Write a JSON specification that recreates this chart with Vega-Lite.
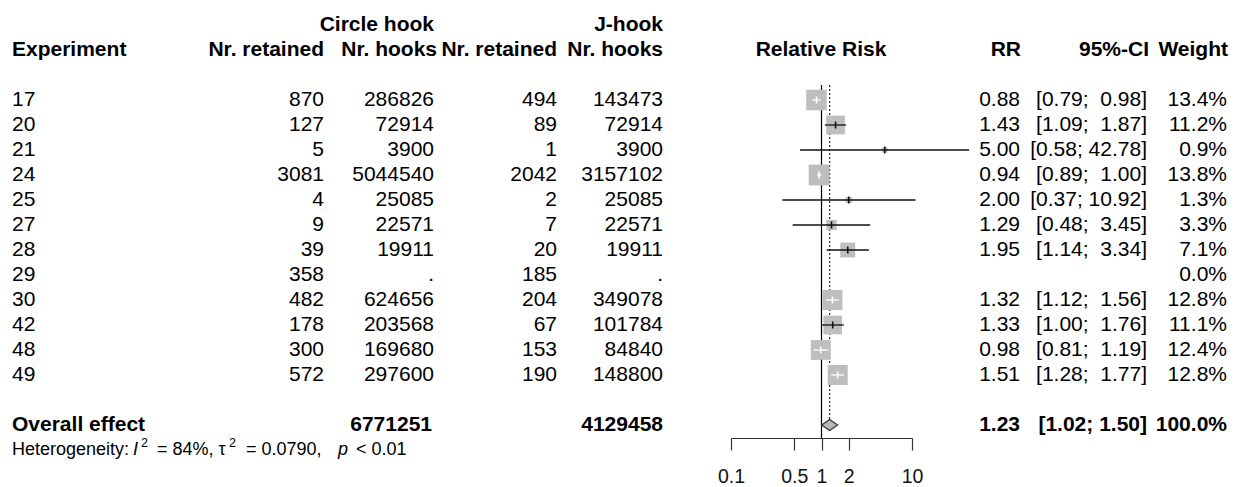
{
  "$schema": "https://vega.github.io/schema/vega-lite/v6.json",
  "width": 1238,
  "height": 487,
  "autosize": "none",
  "padding": 0,
  "background": "white",
  "config": {
    "view": {"stroke": null},
    "font": "Liberation Sans",
    "text": {"font": "Liberation Sans", "fontSize": 21, "color": "#000000", "baseline": "middle"}
  },
  "datasets": {
    "studies": [
      {"key": "17", "cr": 870, "ch": 286826, "jr": 494, "jh": 143473, "rr": 0.88, "lo": 0.79, "hi": 0.98, "ci": "[0.79;\u00a0 0.98]", "w": 0.134},
      {"key": "20", "cr": 127, "ch": 72914, "jr": 89, "jh": 72914, "rr": 1.43, "lo": 1.09, "hi": 1.87, "ci": "[1.09;\u00a0 1.87]", "w": 0.112},
      {"key": "21", "cr": 5, "ch": 3900, "jr": 1, "jh": 3900, "rr": 5.00, "lo": 0.58, "hi": 42.78, "ci": "[0.58; 42.78]", "w": 0.009},
      {"key": "24", "cr": 3081, "ch": 5044540, "jr": 2042, "jh": 3157102, "rr": 0.94, "lo": 0.89, "hi": 1.00, "ci": "[0.89;\u00a0 1.00]", "w": 0.138},
      {"key": "25", "cr": 4, "ch": 25085, "jr": 2, "jh": 25085, "rr": 2.00, "lo": 0.37, "hi": 10.92, "ci": "[0.37; 10.92]", "w": 0.013},
      {"key": "27", "cr": 9, "ch": 22571, "jr": 7, "jh": 22571, "rr": 1.29, "lo": 0.48, "hi": 3.45, "ci": "[0.48;\u00a0 3.45]", "w": 0.033},
      {"key": "28", "cr": 39, "ch": 19911, "jr": 20, "jh": 19911, "rr": 1.95, "lo": 1.14, "hi": 3.34, "ci": "[1.14;\u00a0 3.34]", "w": 0.071},
      {"key": "29", "cr": 358, "ch": ".", "jr": 185, "jh": ".", "rr": null, "lo": null, "hi": null, "ci": "", "w": 0.0},
      {"key": "30", "cr": 482, "ch": 624656, "jr": 204, "jh": 349078, "rr": 1.32, "lo": 1.12, "hi": 1.56, "ci": "[1.12;\u00a0 1.56]", "w": 0.128},
      {"key": "42", "cr": 178, "ch": 203568, "jr": 67, "jh": 101784, "rr": 1.33, "lo": 1.00, "hi": 1.76, "ci": "[1.00;\u00a0 1.76]", "w": 0.111},
      {"key": "48", "cr": 300, "ch": 169680, "jr": 153, "jh": 84840, "rr": 0.98, "lo": 0.81, "hi": 1.19, "ci": "[0.81;\u00a0 1.19]", "w": 0.124},
      {"key": "49", "cr": 572, "ch": 297600, "jr": 190, "jh": 148800, "rr": 1.51, "lo": 1.28, "hi": 1.77, "ci": "[1.28;\u00a0 1.77]", "w": 0.128}
    ],
    "overall": [
      {"key": "Overall effect", "label": "Overall effect", "ch": 6771251, "jh": 4129458, "rr": 1.23, "lo": 1.02, "hi": 1.50, "ci": "[1.02; 1.50]", "w": 1.0}
    ],
    "labels": [
      {"circle": "Circle hook", "jhook": "J-hook", "exp": "Experiment", "ret": "Nr. retained", "hooks": "Nr. hooks", "rel": "Relative Risk", "rrh": "RR", "cih": "95%-CI", "wh": "Weight", "het": "Heterogeneity:", "i": "I", "sup": "2", "i2": "= 84%, τ", "t2": "= 0.0790,", "p": "p", "pv": "< 0.01"}
    ]
  },
  "layer": [
    {
      "layer": [
        {
          "data": {"name": "overall"},
          "mark": {"type": "rule", "color": "#000000", "strokeWidth": 1.2, "yOffset": -15, "y2Offset": -12},
          "encoding": {
            "x": {"datum": 1, "type": "quantitative", "scale": {"type": "log", "domain": [0.1, 10], "range": [731, 912], "nice": false},
              "axis": {"orient": "bottom", "offset": -49, "values": [0.1, 0.5, 1, 2, 10], "format": "~g", "title": null, "grid": false, "domainColor": "#333333", "domainWidth": 1.2, "tickColor": "#333333", "tickWidth": 1.2, "tickSize": 12, "labelFontSize": 19.5, "labelFont": "Liberation Sans", "labelColor": "#111111", "labelPadding": 17.5, "labelFlush": false, "labelOverlap": false}},
            "y": {"datum": "17", "type": "nominal", "scale": {"type": "point", "domain": ["h1","h2","g1","17","20","21","24","25","27","28","29","30","42","48","49","g2","Overall effect","het"], "range": [25, 450], "padding": 0}, "axis": null},
            "y2": {"datum": "het"}
          }
        },
        {
          "data": {"name": "overall"},
          "mark": {"type": "rule", "color": "#333333", "strokeWidth": 1.3, "strokeDash": [2, 2], "yOffset": -15, "y2Offset": -6},
          "encoding": {
            "x": {"field": "rr", "type": "quantitative", "scale": {"type": "log", "domain": [0.1, 10], "range": [731, 912], "nice": false},
              "axis": {"orient": "bottom", "offset": -49, "values": [0.1, 0.5, 1, 2, 10], "format": "~g", "title": null, "grid": false, "domainColor": "#333333", "domainWidth": 1.2, "tickColor": "#333333", "tickWidth": 1.2, "tickSize": 12, "labelFontSize": 19.5, "labelFont": "Liberation Sans", "labelColor": "#111111", "labelPadding": 17.5, "labelFlush": false, "labelOverlap": false}},
            "y": {"datum": "17", "type": "nominal", "axis": null},
            "y2": {"datum": "Overall effect"}
          }
        },
        {
          "data": {"name": "studies"},
          "mark": {"type": "square", "filled": true, "color": "#BEBEBE", "opacity": 1},
          "encoding": {
            "x": {"field": "rr", "type": "quantitative", "scale": {"type": "log", "domain": [0.1, 10], "range": [731, 912], "nice": false},
              "axis": {"orient": "bottom", "offset": -49, "values": [0.1, 0.5, 1, 2, 10], "format": "~g", "title": null, "grid": false, "domainColor": "#333333", "domainWidth": 1.2, "tickColor": "#333333", "tickWidth": 1.2, "tickSize": 12, "labelFontSize": 19.5, "labelFont": "Liberation Sans", "labelColor": "#111111", "labelPadding": 17.5, "labelFlush": false, "labelOverlap": false}},
            "y": {"field": "key", "type": "nominal", "axis": null},
            "size": {"field": "w", "type": "quantitative", "scale": {"type": "linear", "domain": [0, 0.14], "range": [0, 440]}, "legend": null}
          }
        },
        {
          "data": {"name": "studies"},
          "mark": {"type": "rule", "strokeWidth": 1.3},
          "encoding": {
            "x": {"field": "lo", "type": "quantitative", "scale": {"type": "log", "domain": [0.1, 10], "range": [731, 912], "nice": false},
              "axis": {"orient": "bottom", "offset": -49, "values": [0.1, 0.5, 1, 2, 10], "format": "~g", "title": null, "grid": false, "domainColor": "#333333", "domainWidth": 1.2, "tickColor": "#333333", "tickWidth": 1.2, "tickSize": 12, "labelFontSize": 19.5, "labelFont": "Liberation Sans", "labelColor": "#111111", "labelPadding": 17.5, "labelFlush": false, "labelOverlap": false}},
            "x2": {"field": "hi"},
            "y": {"field": "key", "type": "nominal", "axis": null},
            "color": {"condition": {"test": "datum.lo / datum.rr > 0.8 && datum.hi / datum.rr < 1.25", "value": "#FFFFFF"}, "value": "#111111"}
          }
        },
        {
          "data": {"name": "studies"},
          "mark": {"type": "tick", "orient": "vertical", "size": 7, "thickness": 1.6, "opacity": 1},
          "encoding": {
            "x": {"field": "rr", "type": "quantitative", "scale": {"type": "log", "domain": [0.1, 10], "range": [731, 912], "nice": false},
              "axis": {"orient": "bottom", "offset": -49, "values": [0.1, 0.5, 1, 2, 10], "format": "~g", "title": null, "grid": false, "domainColor": "#333333", "domainWidth": 1.2, "tickColor": "#333333", "tickWidth": 1.2, "tickSize": 12, "labelFontSize": 19.5, "labelFont": "Liberation Sans", "labelColor": "#111111", "labelPadding": 17.5, "labelFlush": false, "labelOverlap": false}},
            "y": {"field": "key", "type": "nominal", "axis": null},
            "color": {"condition": {"test": "datum.lo / datum.rr > 0.8 && datum.hi / datum.rr < 1.25", "value": "#FFFFFF"}, "value": "#111111"}
          }
        },
        {
          "data": {"name": "overall"},
          "mark": {"type": "point", "shape": "M-1,0L0,-0.7L1,0L0,0.7Z", "size": 256, "filled": true, "fill": "#B8B8B8", "stroke": "#333333", "strokeWidth": 1.2, "opacity": 1, "fillOpacity": 1},
          "encoding": {
            "x": {"field": "rr", "type": "quantitative", "scale": {"type": "log", "domain": [0.1, 10], "range": [731, 912], "nice": false},
              "axis": {"orient": "bottom", "offset": -49, "values": [0.1, 0.5, 1, 2, 10], "format": "~g", "title": null, "grid": false, "domainColor": "#333333", "domainWidth": 1.2, "tickColor": "#333333", "tickWidth": 1.2, "tickSize": 12, "labelFontSize": 19.5, "labelFont": "Liberation Sans", "labelColor": "#111111", "labelPadding": 17.5, "labelFlush": false, "labelOverlap": false}},
            "y": {"field": "key", "type": "nominal", "axis": null}
          }
        }
      ]
    },
    {
      "layer": [
        {"data": {"name": "labels"}, "mark": {"type": "text", "align": "right", "fontWeight": "bold"},
          "encoding": {"x": {"datum": 434, "type": "quantitative", "scale": {"domain": [0, 1238], "nice": false}, "axis": null}, "y": {"datum": "h1", "type": "nominal", "axis": null}, "text": {"field": "circle", "type": "nominal"}}},
        {"data": {"name": "labels"}, "mark": {"type": "text", "align": "right", "fontWeight": "bold"},
          "encoding": {"x": {"datum": 663, "type": "quantitative", "scale": {"domain": [0, 1238], "nice": false}, "axis": null}, "y": {"datum": "h1", "type": "nominal", "axis": null}, "text": {"field": "jhook", "type": "nominal"}}},
        {"data": {"name": "labels"}, "mark": {"type": "text", "align": "left", "fontWeight": "bold"},
          "encoding": {"x": {"datum": 12, "type": "quantitative", "scale": {"domain": [0, 1238], "nice": false}, "axis": null}, "y": {"datum": "h2", "type": "nominal", "axis": null}, "text": {"field": "exp", "type": "nominal"}}},
        {"data": {"name": "labels"}, "mark": {"type": "text", "align": "right", "fontWeight": "bold"},
          "encoding": {"x": {"datum": 324, "type": "quantitative", "scale": {"domain": [0, 1238], "nice": false}, "axis": null}, "y": {"datum": "h2", "type": "nominal", "axis": null}, "text": {"field": "ret", "type": "nominal"}}},
        {"data": {"name": "labels"}, "mark": {"type": "text", "align": "right", "fontWeight": "bold"},
          "encoding": {"x": {"datum": 437, "type": "quantitative", "scale": {"domain": [0, 1238], "nice": false}, "axis": null}, "y": {"datum": "h2", "type": "nominal", "axis": null}, "text": {"field": "hooks", "type": "nominal"}}},
        {"data": {"name": "labels"}, "mark": {"type": "text", "align": "right", "fontWeight": "bold"},
          "encoding": {"x": {"datum": 557, "type": "quantitative", "scale": {"domain": [0, 1238], "nice": false}, "axis": null}, "y": {"datum": "h2", "type": "nominal", "axis": null}, "text": {"field": "ret", "type": "nominal"}}},
        {"data": {"name": "labels"}, "mark": {"type": "text", "align": "right", "fontWeight": "bold"},
          "encoding": {"x": {"datum": 663, "type": "quantitative", "scale": {"domain": [0, 1238], "nice": false}, "axis": null}, "y": {"datum": "h2", "type": "nominal", "axis": null}, "text": {"field": "hooks", "type": "nominal"}}},
        {"data": {"name": "labels"}, "mark": {"type": "text", "align": "center", "fontWeight": "bold"},
          "encoding": {"x": {"datum": 821, "type": "quantitative", "scale": {"domain": [0, 1238], "nice": false}, "axis": null}, "y": {"datum": "h2", "type": "nominal", "axis": null}, "text": {"field": "rel", "type": "nominal"}}},
        {"data": {"name": "labels"}, "mark": {"type": "text", "align": "right", "fontWeight": "bold"},
          "encoding": {"x": {"datum": 1021, "type": "quantitative", "scale": {"domain": [0, 1238], "nice": false}, "axis": null}, "y": {"datum": "h2", "type": "nominal", "axis": null}, "text": {"field": "rrh", "type": "nominal"}}},
        {"data": {"name": "labels"}, "mark": {"type": "text", "align": "right", "fontWeight": "bold"},
          "encoding": {"x": {"datum": 1149, "type": "quantitative", "scale": {"domain": [0, 1238], "nice": false}, "axis": null}, "y": {"datum": "h2", "type": "nominal", "axis": null}, "text": {"field": "cih", "type": "nominal"}}},
        {"data": {"name": "labels"}, "mark": {"type": "text", "align": "right", "fontWeight": "bold"},
          "encoding": {"x": {"datum": 1228, "type": "quantitative", "scale": {"domain": [0, 1238], "nice": false}, "axis": null}, "y": {"datum": "h2", "type": "nominal", "axis": null}, "text": {"field": "wh", "type": "nominal"}}},

        {"data": {"name": "studies"}, "mark": {"type": "text", "align": "left"},
          "encoding": {"x": {"datum": 12, "type": "quantitative", "scale": {"domain": [0, 1238], "nice": false}, "axis": null}, "y": {"field": "key", "type": "nominal", "axis": null}, "text": {"field": "key", "type": "nominal"}}},
        {"data": {"name": "studies"}, "mark": {"type": "text", "align": "right"},
          "encoding": {"x": {"datum": 324, "type": "quantitative", "scale": {"domain": [0, 1238], "nice": false}, "axis": null}, "y": {"field": "key", "type": "nominal", "axis": null}, "text": {"field": "cr", "type": "nominal"}}},
        {"data": {"name": "studies"}, "mark": {"type": "text", "align": "right"},
          "encoding": {"x": {"datum": 434, "type": "quantitative", "scale": {"domain": [0, 1238], "nice": false}, "axis": null}, "y": {"field": "key", "type": "nominal", "axis": null}, "text": {"field": "ch", "type": "nominal"}}},
        {"data": {"name": "studies"}, "mark": {"type": "text", "align": "right"},
          "encoding": {"x": {"datum": 557, "type": "quantitative", "scale": {"domain": [0, 1238], "nice": false}, "axis": null}, "y": {"field": "key", "type": "nominal", "axis": null}, "text": {"field": "jr", "type": "nominal"}}},
        {"data": {"name": "studies"}, "mark": {"type": "text", "align": "right"},
          "encoding": {"x": {"datum": 663, "type": "quantitative", "scale": {"domain": [0, 1238], "nice": false}, "axis": null}, "y": {"field": "key", "type": "nominal", "axis": null}, "text": {"field": "jh", "type": "nominal"}}},
        {"data": {"name": "studies"}, "transform": [{"filter": "isValid(datum.rr)"}], "mark": {"type": "text", "align": "right"},
          "encoding": {"x": {"datum": 1020, "type": "quantitative", "scale": {"domain": [0, 1238], "nice": false}, "axis": null}, "y": {"field": "key", "type": "nominal", "axis": null}, "text": {"field": "rr", "type": "quantitative", "format": ".2f"}}},
        {"data": {"name": "studies"}, "transform": [{"filter": "isValid(datum.rr)"}], "mark": {"type": "text", "align": "right"},
          "encoding": {"x": {"datum": 1147, "type": "quantitative", "scale": {"domain": [0, 1238], "nice": false}, "axis": null}, "y": {"field": "key", "type": "nominal", "axis": null}, "text": {"field": "ci", "type": "nominal"}}},
        {"data": {"name": "studies"}, "mark": {"type": "text", "align": "right"},
          "encoding": {"x": {"datum": 1227, "type": "quantitative", "scale": {"domain": [0, 1238], "nice": false}, "axis": null}, "y": {"field": "key", "type": "nominal", "axis": null}, "text": {"field": "w", "type": "quantitative", "format": ".1%"}}},

        {"data": {"name": "overall"}, "mark": {"type": "text", "align": "left", "fontWeight": "bold"},
          "encoding": {"x": {"datum": 12, "type": "quantitative", "scale": {"domain": [0, 1238], "nice": false}, "axis": null}, "y": {"field": "key", "type": "nominal", "axis": null}, "text": {"field": "label", "type": "nominal"}}},
        {"data": {"name": "overall"}, "mark": {"type": "text", "align": "right", "fontWeight": "bold"},
          "encoding": {"x": {"datum": 432, "type": "quantitative", "scale": {"domain": [0, 1238], "nice": false}, "axis": null}, "y": {"field": "key", "type": "nominal", "axis": null}, "text": {"field": "ch", "type": "nominal"}}},
        {"data": {"name": "overall"}, "mark": {"type": "text", "align": "right", "fontWeight": "bold"},
          "encoding": {"x": {"datum": 663, "type": "quantitative", "scale": {"domain": [0, 1238], "nice": false}, "axis": null}, "y": {"field": "key", "type": "nominal", "axis": null}, "text": {"field": "jh", "type": "nominal"}}},
        {"data": {"name": "overall"}, "mark": {"type": "text", "align": "right", "fontWeight": "bold"},
          "encoding": {"x": {"datum": 1020, "type": "quantitative", "scale": {"domain": [0, 1238], "nice": false}, "axis": null}, "y": {"field": "key", "type": "nominal", "axis": null}, "text": {"field": "rr", "type": "quantitative", "format": ".2f"}}},
        {"data": {"name": "overall"}, "mark": {"type": "text", "align": "right", "fontWeight": "bold"},
          "encoding": {"x": {"datum": 1147, "type": "quantitative", "scale": {"domain": [0, 1238], "nice": false}, "axis": null}, "y": {"field": "key", "type": "nominal", "axis": null}, "text": {"field": "ci", "type": "nominal"}}},
        {"data": {"name": "overall"}, "mark": {"type": "text", "align": "right", "fontWeight": "bold"},
          "encoding": {"x": {"datum": 1227, "type": "quantitative", "scale": {"domain": [0, 1238], "nice": false}, "axis": null}, "y": {"field": "key", "type": "nominal", "axis": null}, "text": {"field": "w", "type": "quantitative", "format": ".1%"}}},

        {"data": {"name": "labels"}, "mark": {"type": "text", "align": "left", "fontSize": 18},
          "encoding": {"x": {"datum": 12, "type": "quantitative", "scale": {"domain": [0, 1238], "nice": false}, "axis": null}, "y": {"datum": "het", "type": "nominal", "axis": null}, "text": {"field": "het", "type": "nominal"}}},
        {"data": {"name": "labels"}, "mark": {"type": "text", "align": "left", "fontSize": 18, "fontStyle": "italic"},
          "encoding": {"x": {"datum": 133, "type": "quantitative", "scale": {"domain": [0, 1238], "nice": false}, "axis": null}, "y": {"datum": "het", "type": "nominal", "axis": null}, "text": {"field": "i", "type": "nominal"}}},
        {"data": {"name": "labels"}, "mark": {"type": "text", "align": "left", "fontSize": 12.5, "dy": -7},
          "encoding": {"x": {"datum": 141, "type": "quantitative", "scale": {"domain": [0, 1238], "nice": false}, "axis": null}, "y": {"datum": "het", "type": "nominal", "axis": null}, "text": {"field": "sup", "type": "nominal"}}},
        {"data": {"name": "labels"}, "mark": {"type": "text", "align": "left", "fontSize": 18},
          "encoding": {"x": {"datum": 157, "type": "quantitative", "scale": {"domain": [0, 1238], "nice": false}, "axis": null}, "y": {"datum": "het", "type": "nominal", "axis": null}, "text": {"field": "i2", "type": "nominal"}}},
        {"data": {"name": "labels"}, "mark": {"type": "text", "align": "left", "fontSize": 12.5, "dy": -7},
          "encoding": {"x": {"datum": 229, "type": "quantitative", "scale": {"domain": [0, 1238], "nice": false}, "axis": null}, "y": {"datum": "het", "type": "nominal", "axis": null}, "text": {"field": "sup", "type": "nominal"}}},
        {"data": {"name": "labels"}, "mark": {"type": "text", "align": "left", "fontSize": 18},
          "encoding": {"x": {"datum": 246, "type": "quantitative", "scale": {"domain": [0, 1238], "nice": false}, "axis": null}, "y": {"datum": "het", "type": "nominal", "axis": null}, "text": {"field": "t2", "type": "nominal"}}},
        {"data": {"name": "labels"}, "mark": {"type": "text", "align": "left", "fontSize": 18, "fontStyle": "italic"},
          "encoding": {"x": {"datum": 338, "type": "quantitative", "scale": {"domain": [0, 1238], "nice": false}, "axis": null}, "y": {"datum": "het", "type": "nominal", "axis": null}, "text": {"field": "p", "type": "nominal"}}},
        {"data": {"name": "labels"}, "mark": {"type": "text", "align": "left", "fontSize": 18},
          "encoding": {"x": {"datum": 356, "type": "quantitative", "scale": {"domain": [0, 1238], "nice": false}, "axis": null}, "y": {"datum": "het", "type": "nominal", "axis": null}, "text": {"field": "pv", "type": "nominal"}}}
      ]
    }
  ],
  "resolve": {"scale": {"x": "independent"}, "axis": {"x": "independent"}}
}
